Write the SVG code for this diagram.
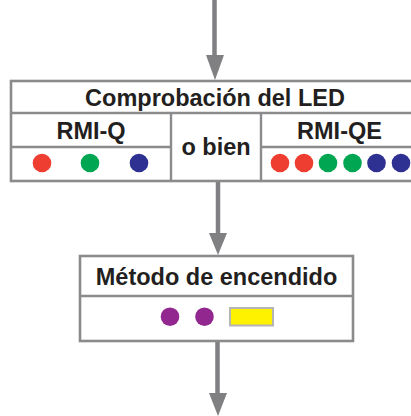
<svg xmlns="http://www.w3.org/2000/svg" width="411" height="416" viewBox="0 0 411 416">
<style>
.box{fill:#fff;stroke:#8b8b8e;stroke-width:2.6}
.ln{stroke:#8b8b8e;stroke-width:2.4;fill:none}
.t{font-family:"Liberation Sans",Arial,sans-serif;font-weight:bold;font-size:23.5px;fill:#231f20;text-anchor:middle}
.shaft{stroke:#808083;stroke-width:4.5;fill:none}
.head{fill:#808083}
</style>
<rect width="411" height="416" fill="#fff"/>
<g id="connectors">
<line class="shaft" x1="214.5" y1="0" x2="214.5" y2="58"/>
<polygon class="head" points="206,55 224,55 215,80"/>
<line class="shaft" x1="218" y1="182" x2="218" y2="236"/>
<polygon class="head" points="209,233 227,233 218,255"/>
<line class="shaft" x1="217.5" y1="342" x2="217.5" y2="396"/>
<polygon class="head" points="209,393 227,393 218,416"/>
</g>
<g id="led-check">
<rect class="box" x="11" y="81" width="404" height="100"/>
<line class="ln" x1="11" y1="113" x2="415" y2="113"/>
<line class="ln" x1="171" y1="113" x2="171" y2="181"/>
<line class="ln" x1="261" y1="113" x2="261" y2="181"/>
<line class="ln" x1="11" y1="147" x2="171" y2="147"/>
<line class="ln" x1="261" y1="147" x2="415" y2="147"/>
<text class="t" x="215" y="106">Comprobación del LED</text>
<text class="t" x="91" y="139">RMI-Q</text>
<text class="t" x="216" y="155">o bien</text>
<text class="t" x="339.5" y="139">RMI-QE</text>
<circle cx="42" cy="163" r="9.3" fill="#ee3d31"/>
<circle cx="90" cy="163" r="9.3" fill="#00a651"/>
<circle cx="139" cy="163" r="9.3" fill="#2e3192"/>
<circle cx="280" cy="163" r="9.3" fill="#ee3d31"/>
<circle cx="304" cy="163" r="9.3" fill="#ee3d31"/>
<circle cx="328" cy="163" r="9.3" fill="#00a651"/>
<circle cx="352.5" cy="163" r="9.3" fill="#00a651"/>
<circle cx="376.5" cy="163" r="9.3" fill="#2e3192"/>
<circle cx="401" cy="163" r="9.3" fill="#2e3192"/>
</g>
<g id="ignition-method">
<rect class="box" x="80" y="256" width="273" height="85"/>
<line class="ln" x1="80" y1="296" x2="353" y2="296"/>
<text class="t" x="216.5" y="285">Método de encendido</text>
<circle cx="170" cy="316.7" r="9.3" fill="#92278f"/>
<circle cx="204.5" cy="316.7" r="9.3" fill="#92278f"/>
<rect x="230" y="308" width="43" height="17.5" fill="#fff200" stroke="#b5b5b5" stroke-width="2"/>
</g>
</svg>
